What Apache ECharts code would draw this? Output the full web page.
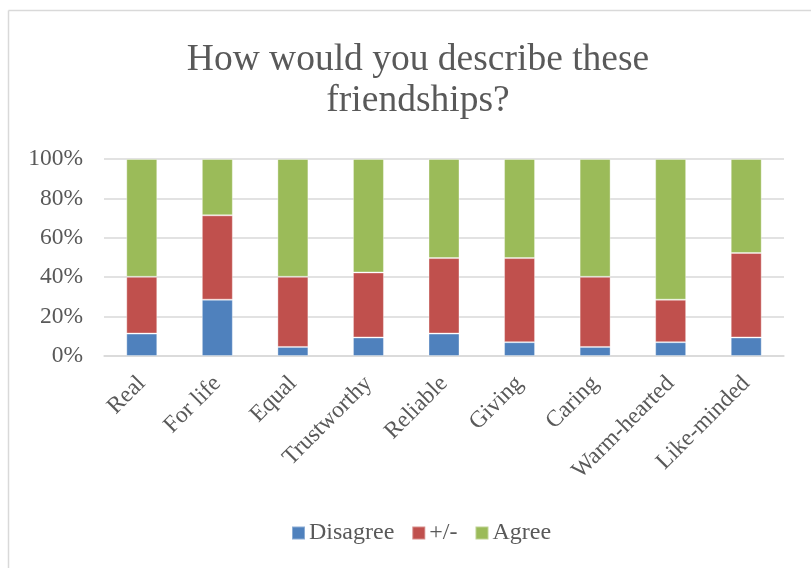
<!DOCTYPE html>
<html><head><meta charset="utf-8">
<script src="https://cdn.jsdelivr.net/npm/echarts@6/dist/echarts.min.js"></script>
<style>html,body{margin:0;padding:0;background:#fff}#c{width:811px;height:568px}</style>
</head><body><div id="c"></div>
<script>
const categories = ['Real','For life','Equal','Trustworthy','Reliable','Giving','Caring','Warm-hearted','Like-minded'];
const disagree = [11.4, 28.6, 4.6, 9.4, 11.4, 7.0, 4.6, 7.0, 9.4];
const neutral  = [28.8, 42.8, 35.6, 33.0, 38.3, 42.7, 35.6, 21.6, 42.9];
const agree    = [59.8, 28.6, 59.8, 57.6, 50.3, 50.3, 59.8, 71.4, 47.7];
const yTicks = [0, 20, 40, 60, 80, 100];
const font = '"Liberation Serif","Times New Roman",serif';
const chart = echarts.init(document.getElementById('c'));
function s(name, data, color){
  return {name, type:'bar', stack:'t', data, barWidth:'41%',
    itemStyle:{color, borderColor:'rgba(255,255,255,0.35)', borderWidth:1}};
}
chart.setOption({
  animation:false,
  textStyle:{fontFamily:font},
  graphic:[
    {type:'line', shape:{x1:8.5,y1:10.5,x2:811,y2:10.5}, style:{stroke:'#D9D9D9', lineWidth:1.5}, silent:true},
    {type:'line', shape:{x1:8.5,y1:10.5,x2:8.5,y2:568}, style:{stroke:'#D9D9D9', lineWidth:1.5}, silent:true}
  ],
  title:{text:'How would you describe these\nfriendships?', left:413, textAlign:'center', top:35,
    textStyle:{fontFamily:font, fontSize:37.5, fontWeight:'normal', color:'#595959', lineHeight:41}},
  legend:{top:516, left:286, itemWidth:13, itemHeight:13, itemGap:17, icon:'rect',
    textStyle:{fontFamily:font, fontSize:24, color:'#595959', padding:[0,0,0,-1]},
    data:['Disagree','+/-','Agree']},
  grid:{left:104, right:27, top:159, bottom:212, containLabel:false},
  xAxis:{type:'category', data:categories,
    axisLine:{lineStyle:{color:'#D9D9D9', width:1.5}}, axisTick:{show:false},
    axisLabel:{rotate:45, fontFamily:font, fontSize:23.5, color:'#595959', margin:24, interval:0}},
  yAxis:{type:'value', min:0, max:100, interval:20,
    axisLabel:{formatter:v=>yTicks.includes(v)?v+'%':'', fontFamily:font, fontSize:23.5, color:'#595959', margin:21},
    splitLine:{lineStyle:{color:'#D9D9D9', width:1.5}}, axisLine:{show:false}, axisTick:{show:false}},
  series:[s('Disagree', disagree, '#4F81BD'), s('+/-', neutral, '#C0504D'), s('Agree', agree, '#9BBB59')]
});
</script></body></html>
